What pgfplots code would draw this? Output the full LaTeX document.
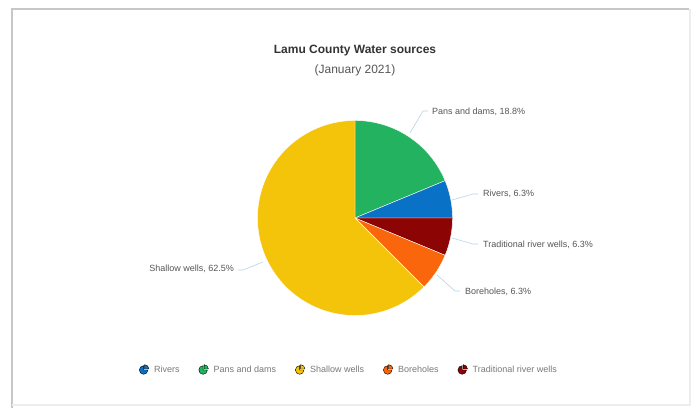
\documentclass[border=0pt]{standalone}
\usepackage{pgfplots}
\pgfplotsset{compat=1.18}
\usepackage{pgfplotstable}
\usepackage{fontspec}
\setmainfont{Liberation Sans}
\definecolor{cRivers}{RGB}{10,114,198}
\definecolor{cPans}{RGB}{35,178,96}
\definecolor{cShallow}{RGB}{243,196,10}
\definecolor{cBore}{RGB}{249,102,12}
\definecolor{cTrad}{RGB}{140,4,4}
\definecolor{lead}{RGB}{180,212,228}
\definecolor{lbl}{RGB}{85,85,85}
\definecolor{leg}{RGB}{120,120,120}
\definecolor{ttl}{RGB}{51,51,51}

% shares in percent, clockwise from 12 o'clock
\pgfplotstableread{
name value
Pans 18.75
Rivers 6.25
Trad 6.25
Bore 6.25
Shallow 62.5
}\pietable
\pgfplotstablegetelem{0}{value}\of\pietable \let\vA\pgfplotsretval
\pgfplotstablegetelem{1}{value}\of\pietable \let\vB\pgfplotsretval
\pgfplotstablegetelem{2}{value}\of\pietable \let\vC\pgfplotsretval
\pgfplotstablegetelem{3}{value}\of\pietable \let\vD\pgfplotsretval
\pgfplotstablegetelem{4}{value}\of\pietable \let\vE\pgfplotsretval
\pgfmathsetmacro{\aA}{90}
\pgfmathsetmacro{\aB}{\aA-3.6*\vA}
\pgfmathsetmacro{\aC}{\aB-3.6*\vB}
\pgfmathsetmacro{\aD}{\aC-3.6*\vC}
\pgfmathsetmacro{\aE}{\aD-3.6*\vD}
\pgfmathsetmacro{\aF}{\aE-3.6*\vE}
\def\cx{355}
\def\cy{190}
\def\R{97.5}

\begin{document}
\begin{tikzpicture}
\begin{axis}[
  scale only axis, width=695pt, height=408pt,
  xmin=0, xmax=695, ymin=0, ymax=408,
  hide axis, clip=false,
  legend columns=5,
  legend style={at={(axis cs:349,38)}, anchor=center, draw=none, fill=none,
    font=\fontsize{9}{11}\selectfont, text=leg,
    /tikz/every odd column/.append style={column sep=3pt},
    /tikz/every even column/.append style={column sep=17pt},
    nodes={inner sep=2pt}},
  legend image code/.code={
    \fill[#1] (0pt,0pt) -- (0pt,4.3pt) arc[start angle=90,end angle=360,radius=4.3pt] -- cycle;
    \fill[#1] (1pt,1pt) -- (1pt,5.3pt) arc[start angle=90,end angle=0,radius=4.3pt] -- cycle;
  },
]
% full picture area
\path (axis cs:0,0) -- (axis cs:695,408);
% frame
\draw[black!22, line width=1.6pt] (axis cs:12,0) -- (axis cs:12,399) -- (axis cs:689,399);
\draw[black!7, line width=2.5pt] (axis cs:690,399) -- (axis cs:690,3) -- (axis cs:12,3);

% slices
\addplot[forget plot, fill=cPans, draw=white, line width=0.4pt, domain=\aB:\aA, samples=60, variable=\t]
  ({\cx+\R*cos(t)}, {\cy+\R*sin(t)}) -- (axis cs:\cx,\cy) -- cycle;
\addplot[forget plot, fill=cRivers, draw=white, line width=0.4pt, domain=\aC:\aB, samples=30, variable=\t]
  ({\cx+\R*cos(t)}, {\cy+\R*sin(t)}) -- (axis cs:\cx,\cy) -- cycle;
\addplot[forget plot, fill=cTrad, draw=white, line width=0.4pt, domain=\aD:\aC, samples=30, variable=\t]
  ({\cx+\R*cos(t)}, {\cy+\R*sin(t)}) -- (axis cs:\cx,\cy) -- cycle;
\addplot[forget plot, fill=cBore, draw=white, line width=0.4pt, domain=\aE:\aD, samples=30, variable=\t]
  ({\cx+\R*cos(t)}, {\cy+\R*sin(t)}) -- (axis cs:\cx,\cy) -- cycle;
\addplot[forget plot, fill=cShallow, draw=white, line width=0.4pt, domain=\aF:\aE, samples=150, variable=\t]
  ({\cx+\R*cos(t)}, {\cy+\R*sin(t)}) -- (axis cs:\cx,\cy) -- cycle;

% leader lines
\addplot[forget plot, lead, line width=0.6pt] coordinates {(410,275) (423,297) (428,297)};
\addplot[forget plot, lead, line width=0.6pt] coordinates {(452,208) (473,214) (478,214)};
\addplot[forget plot, lead, line width=0.6pt] coordinates {(452,170) (473,164) (478,164)};
\addplot[forget plot, lead, line width=0.6pt] coordinates {(437,133) (455,117) (460,117)};
\addplot[forget plot, lead, line width=0.6pt] coordinates {(238,138) (243,138) (263,146)};

% labels
\begin{scope}[every node/.style={font=\fontsize{9}{11}\selectfont, text=lbl, inner sep=0pt}]
\node[anchor=west] at (axis cs:432,296) {Pans and dams, 18.8\%};
\node[anchor=west] at (axis cs:483,214) {Rivers, 6.3\%};
\node[anchor=west] at (axis cs:483,163) {Traditional river wells, 6.3\%};
\node[anchor=west] at (axis cs:465,116) {Boreholes, 6.3\%};
\node[anchor=east] at (axis cs:234,139) {Shallow wells, 62.5\%};
\end{scope}

% titles
\node[font=\bfseries\fontsize{12}{14}\selectfont, text=ttl] at (axis cs:355,357) {Lamu County Water sources};
\node[font=\fontsize{12}{14}\selectfont, text=lbl] at (axis cs:355,338) {(January 2021)};

% legend
\addlegendimage{fill=cRivers}
\addlegendentry{Rivers}
\addlegendimage{fill=cPans}
\addlegendentry{Pans and dams}
\addlegendimage{fill=cShallow}
\addlegendentry{Shallow wells}
\addlegendimage{fill=cBore}
\addlegendentry{Boreholes}
\addlegendimage{fill=cTrad}
\addlegendentry{Traditional river wells}
\end{axis}
\end{tikzpicture}
\end{document}
